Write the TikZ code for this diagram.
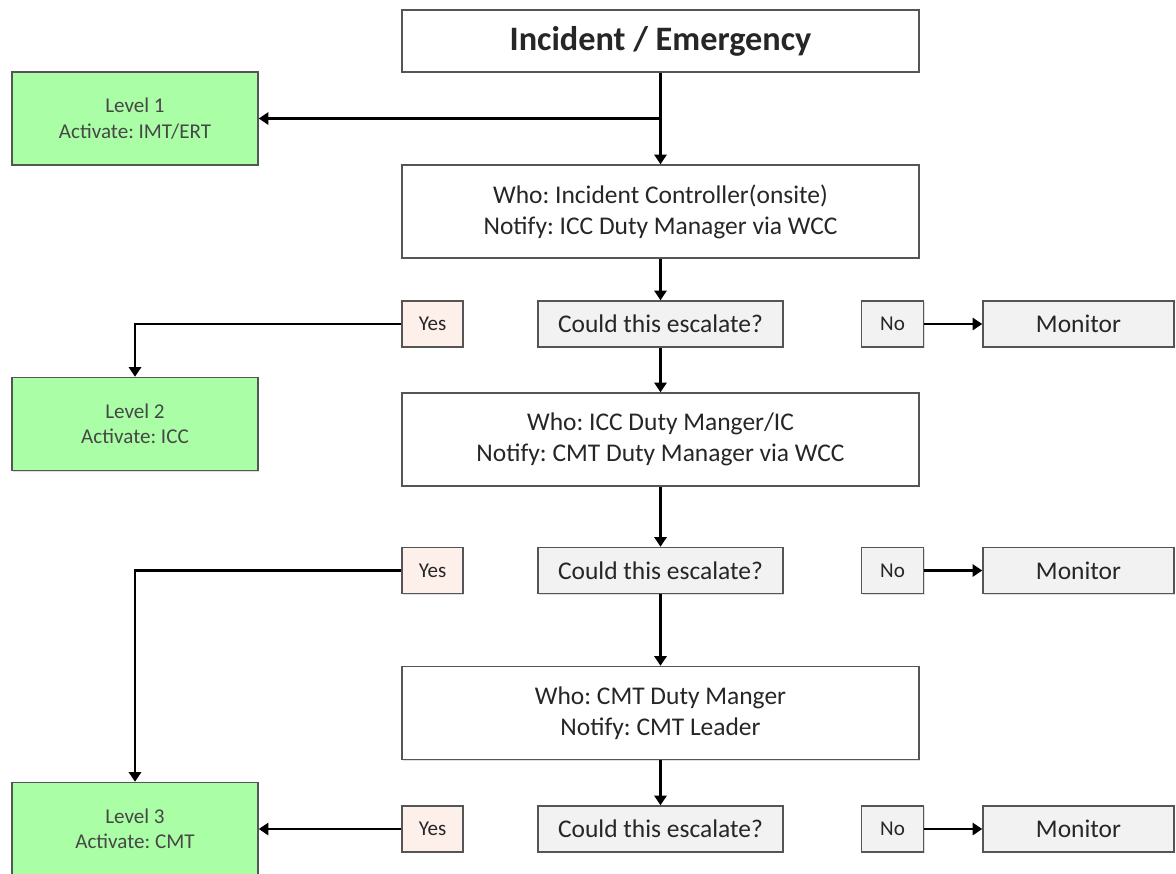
\documentclass[tikz,border=0pt]{standalone}
\usepackage{fontspec}
\setmainfont{Carlito}
\usepackage{tikz}
\definecolor{lvlgreen}{HTML}{AAFFA6}
\definecolor{yespink}{HTML}{FDF0EB}
\definecolor{asklight}{HTML}{F2F2F2}
\definecolor{framegrey}{HTML}{555555}
\usetikzlibrary{arrows.meta, calc, positioning, shadows}
\frenchspacing

\begin{document}
\begin{tikzpicture}[x=0.02cm, y=-0.02cm,
	box/.style={draw=framegrey, line width=0.9pt, align=center, inner sep=0pt, text=black!85,
		drop shadow={shadow xshift=0.7pt, shadow yshift=-0.7pt, opacity=0.25}},
	bigbox/.style={box, fill=white, minimum width=10.34cm, minimum height=1.86cm, font=\fontsize{14.5}{17.5}\selectfont},
	lvlbox/.style={box, fill=lvlgreen, minimum width=4.92cm, minimum height=1.86cm, text=black!72, font=\fontsize{12}{14.5}\selectfont},
	askbox/.style={box, fill=asklight, minimum width=4.9cm, minimum height=0.92cm, font=\fontsize{14.5}{17}\selectfont},
	yesbox/.style={box, fill=yespink, minimum width=1.22cm, minimum height=0.92cm, font=\fontsize{12}{14}\selectfont},
	nobox/.style={box, fill=asklight, minimum width=1.24cm, minimum height=0.92cm, font=\fontsize{12}{14}\selectfont},
	monbox/.style={box, fill=asklight, minimum width=3.82cm, minimum height=0.92cm, font=\fontsize{14.5}{17}\selectfont},
	link/.style={black, line width=1.3pt},
	flow/.style={link, -{Triangle[length=5.5pt, width=7pt]}}
	]
	
	\useasboundingbox (0,0) rectangle (1176,873);
	
	% main column
	\node[bigbox, minimum height=1.24cm, font=\bfseries\fontsize{19.5}{22}\selectfont] (incident) at (660.5,41) {Incident / Emergency};
	\node[bigbox] (whoone) at (660.5,211.5) {Who: Incident Controller(onsite)\\Notify: ICC Duty Manager via WCC};
	\node[bigbox] (whotwo) at (660.5,439.5) {Who: ICC Duty Manger/IC\\Notify: CMT Duty Manager via WCC};
	\node[bigbox] (whothree) at (660.5,713) {Who: CMT Duty Manger\\Notify: CMT Leader};
	
	% levels
	\node[lvlbox] (levelone) at (135,118.5) {Level 1\\Activate: IMT/ERT};
	\node[lvlbox] (leveltwo) at (135,424) {Level 2\\Activate: ICC};
	\node[lvlbox] (levelthree) at (135,829) {Level 3\\Activate: CMT};
	
	% question rows
	\foreach \i/\y in {1/324, 2/570.5, 3/829} {
		\node[askbox] (ask\i) at (660.5,\y) {Could this escalate?};
		\node[yesbox] (yes\i) at (432.5,\y) {Yes};
		\node[nobox] (no\i) at (892.5,\y) {No};
		\node[monbox] (mon\i) at (1078.5,\y) {Monitor};
		\draw[flow] (no\i) -- (mon\i);
	}
	
	\coordinate (split) at ($(incident.south)!0.5!(whoone.north)$);
	
	\draw[link] (incident) -- (split);
	\draw[flow] (split) -- (whoone);
	\draw[flow] (split) -- (split -| levelone.east);
	
	\draw[flow] (whoone) -- (ask1);
	\draw[flow] (ask1) -- (whotwo);
	\draw[flow] (whotwo) -- (ask2);
	\draw[flow] (ask2) -- (whothree);
	\draw[flow] (whothree) -- (ask3);
	
	\draw[flow] (yes1.west) -| (leveltwo.north);
	\draw[flow] (yes2.west) -| (levelthree.north);
	\draw[flow] (yes3) -- (levelthree);
	
\end{tikzpicture}
\end{document}
